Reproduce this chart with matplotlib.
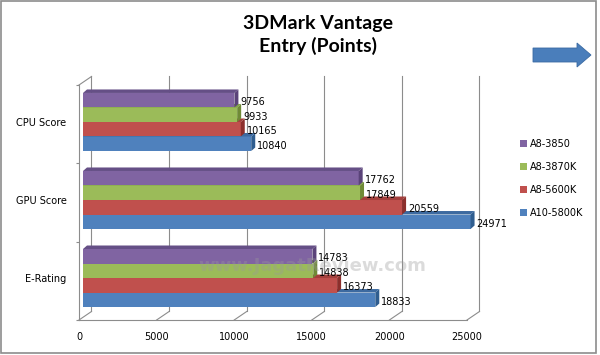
import matplotlib
matplotlib.use("Agg")
import matplotlib.pyplot as plt
from matplotlib.patches import Polygon, Patch, Rectangle, FancyArrow

# --- Data ---------------------------------------------------------------------
categories = ["E-Rating", "GPU Score", "CPU Score"]
series_names = ["A10-5800K", "A8-5600K", "A8-3870K", "A8-3850"]
a10_5800k = [18833, 24971, 10840]
a8_5600k = [16373, 20559, 10165]
a8_3870k = [14838, 17849, 9933]
a8_3850 = [14783, 17762, 9756]
x_ticks = [0, 5000, 10000, 15000, 20000, 25000]

series_values = [a10_5800k, a8_5600k, a8_3870k, a8_3850]
front_colors = ["#4f81bd", "#c0504d", "#9bbb59", "#8064a2"]
side_colors = ["#2f5d8f", "#8c2f2c", "#6f8a36", "#5a4379"]
top_colors = ["#3d6aa0", "#a33f3c", "#83a349", "#654f86"]

# --- Geometry (pixels -> data) -----------------------------------------------
W, H, DPI = 600, 355, 100
PX_X = 77.6 / 5000          # pixels per unit on the value axis
PX_Y = 78.0                 # pixels per category
XL = -4 / PX_X
XR = 396 / PX_X
YB, YT = -0.538, 2.474
WALL_DX = 12.5 / PX_X       # depth of wall / floor
WALL_DY = 8.5 / PX_Y
BAR_DX = 4 / PX_X           # depth of each bar
BAR_DY = 3.5 / PX_Y
BAR_H = 0.186
GRID = "#8c8c8c"


def fx(px):
    return px / W


def fy(py):
    return 1 - py / H


fig = plt.figure(figsize=(W / DPI, H / DPI), dpi=DPI)
ax = fig.add_axes([fx(79), fy(320), 400 / W, 235 / H])
ax.set_xlim(XL, XR)
ax.set_ylim(YB, YT)
ax.patch.set_alpha(0)
for s in ["top", "right", "bottom"]:
    ax.spines[s].set_visible(False)
ax.spines["left"].set_color(GRID)
ax.spines["left"].set_linewidth(0.8)

# walls and floor
for t in x_ticks:
    xf = t + XL
    xb = xf + WALL_DX
    ax.plot([xb, xb], [YB + WALL_DY, YT + WALL_DY], color=GRID, lw=0.8,
            clip_on=False, zorder=1)
    ax.plot([xf, xb], [YB, YB + WALL_DY], color=GRID, lw=0.8, clip_on=False, zorder=1)
ax.plot([XL, x_ticks[-1] + XL], [YB, YB], color=GRID, lw=0.8, clip_on=False, zorder=1)
ax.plot([XL, XL + WALL_DX], [YT, YT + WALL_DY], color=GRID, lw=0.8, clip_on=False, zorder=1)

# 3D bars, bottom series first so the ones above hide its top face
z = 3
for i in range(len(categories)):
    for j, (vals, fc, sc, tc) in enumerate(zip(series_values, front_colors,
                                               side_colors, top_colors)):
        v = vals[i]
        bot = i - 2 * BAR_H + j * BAR_H
        top = bot + BAR_H
        ax.barh(bot + BAR_H / 2, v, height=BAR_H, left=0, color=fc,
                edgecolor="none", zorder=z)
        ax.add_patch(Polygon([(0, top), (v, top), (v + BAR_DX, top + BAR_DY),
                              (BAR_DX, top + BAR_DY)], closed=True, facecolor=tc,
                             edgecolor="none", zorder=z, clip_on=False))
        ax.add_patch(Polygon([(v, bot), (v, top), (v + BAR_DX, top + BAR_DY),
                              (v + BAR_DX, bot + BAR_DY)], closed=True, facecolor=sc,
                             edgecolor="none", zorder=z, clip_on=False))
        ax.annotate(str(v), (v + BAR_DX, bot + BAR_H / 2), xytext=(2, -2),
                    textcoords="offset pixels", ha="left", va="center",
                    fontsize=7, color="black", zorder=20)
        z += 1

# axes ticks
ax.set_xticks([t + XL for t in x_ticks])
ax.set_xticklabels([str(t) for t in x_ticks], fontsize=7)
ax.tick_params(axis="x", length=0, pad=9)
ax.set_yticks(range(len(categories)))
ax.set_yticklabels(categories, fontsize=7)
ax.tick_params(axis="y", which="major", length=0, pad=9)
ax.set_yticks([YB + k * (YT - YB) / 3 for k in range(4)], minor=True)
ax.tick_params(axis="y", which="minor", length=2.5, color=GRID, width=0.8)

# legend
handles = [Patch(facecolor=c, edgecolor="none", label=n)
           for n, c in zip(series_names[::-1], front_colors[::-1])]
fig.legend(handles=handles, loc="upper left", bbox_to_anchor=(fx(515), fy(134)),
           frameon=False, fontsize=7, handlelength=0.7, handleheight=0.7,
           handletextpad=0.35, labelspacing=1.35, borderpad=0)

# watermark
fig.text(fx(312), fy(266), "www.JagatReview.com", fontsize=13, fontweight="bold",
         color="#9a9a9a", alpha=0.35, ha="center", va="center", zorder=30)

# frame, title and arrow
fig.patches.append(Rectangle((fx(1), fy(353)), fx(595), 352 / H, transform=fig.transFigure,
                             fill=False, edgecolor="#8c8c8c", lw=1.2, zorder=0))
fig.text(fx(318), fy(35), "3DMark Vantage\nEntry (Points)", ha="center", va="center",
         fontsize=14, fontweight="bold", family="Lato", linespacing=1.3,
         bbox=dict(facecolor="white", edgecolor="none", pad=9))
fig.patches.append(FancyArrow(fx(533), fy(55), fx(58), 0, width=14 / H,
                              head_width=24 / H, head_length=fx(14),
                              length_includes_head=True, transform=fig.transFigure,
                              facecolor="#4a7ebb", edgecolor="#3a6aa3", lw=0.6))

fig.savefig("out.png", dpi=DPI)
